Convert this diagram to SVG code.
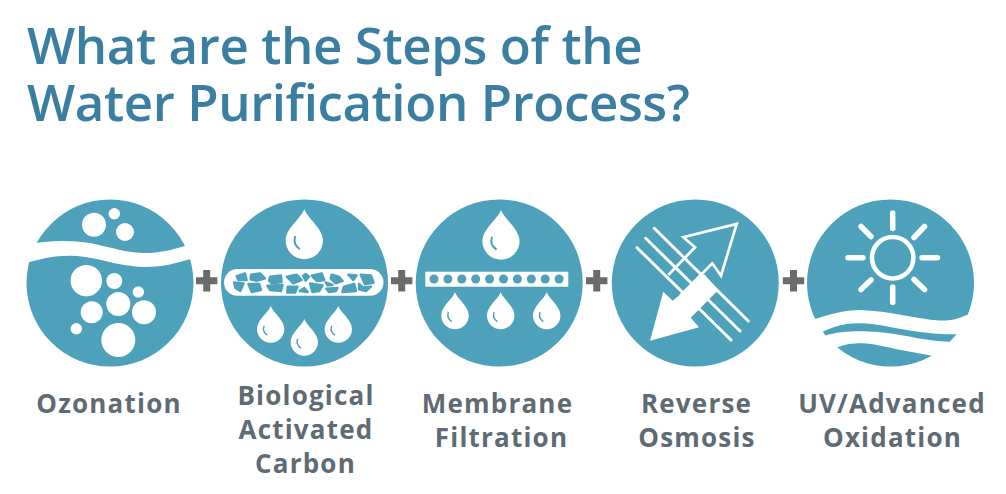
<svg xmlns="http://www.w3.org/2000/svg" xmlns:xlink="http://www.w3.org/1999/xlink" width="1006" height="494" viewBox="0 0 1006 494">
<style>
.title{font:600 51px "Open Sans","Liberation Sans",sans-serif;fill:#3a7ea1;letter-spacing:-.4px}
.label{font:700 26px "Open Sans","Liberation Sans",sans-serif;fill:#5f6b73;text-anchor:middle;letter-spacing:1.2px}
.disc{fill:#4da1bb}
.w{fill:#fff}
.t{fill:#4da1bb}
.ws{stroke:#fff;fill:none;stroke-linecap:round}
.plus{fill:none;stroke:#6b6b6b;stroke-width:7}
</style>
<defs>
<g id="drop"><path class="w" d="M0 0C8 20 37 38 37.5 63A37.5 37.5 0 0 1-37.5 63C-37 38-8 20 0 0Z"/><path d="M-18 54Q-24 70-9 80" fill="none" stroke="#4da1bb" stroke-width="4"/></g>
<clipPath id="c5"><circle cx="890.5" cy="283" r="83.5"/></clipPath>
</defs>
<rect width="1006" height="494" fill="#fff"/>
<g id="title"><text class="title" x="27" y="64">What are the Steps of the</text><text class="title" x="27" y="121">Water Purification Process?</text></g>
<g id="connectors">
<path class="plus" d="M196 280.7H217.4M206.7 270V291.4"/>
<path class="plus" d="M391 280.7H412.4M401.7 270V291.4"/>
<path class="plus" d="M586 280.7H607.4M596.7 270V291.4"/>
<path class="plus" d="M782.8 280.7H804.2M793.5 270V291.4"/>
</g>
<g id="ozonation">
<circle class="disc" cx="110" cy="283" r="83.5"/>
<path class="w" d="M20 246C45 240 70 240 90 243C110 247 130 254 150 253C165 252 175 249 195 243L195 258C175 263 165 267 145 267C125 267 105 260 85 257C65 254 45 257 20 265Z"/>
<circle class="w" cx="94" cy="224.7" r="12"/><circle class="w" cx="114.3" cy="213.7" r="5.7"/><circle class="w" cx="125" cy="232" r="9"/>
<circle class="w" cx="86.3" cy="280.7" r="15.7"/><circle class="w" cx="114.3" cy="281" r="8"/><circle class="w" cx="138.3" cy="292" r="5.7"/>
<circle class="w" cx="118.3" cy="304" r="12"/><circle class="w" cx="91.7" cy="312.3" r="11"/><circle class="w" cx="144" cy="312.3" r="12"/>
<circle class="w" cx="76.3" cy="328.7" r="5.7"/><circle class="w" cx="118.3" cy="340" r="17"/>
<text class="label" x="109" y="413">Ozonation</text>
</g>
<g id="biological-activated-carbon">
<circle class="disc" cx="304.5" cy="283" r="83.5"/>
<use xlink:href="#drop" href="#drop" transform="translate(304.3 209.3) scale(.497)"/>
<use xlink:href="#drop" href="#drop" transform="translate(270.7 306) scale(.365)"/>
<use xlink:href="#drop" href="#drop" transform="translate(304.3 319) scale(.365)"/>
<use xlink:href="#drop" href="#drop" transform="translate(338.3 306) scale(.365)"/>
<rect class="w" x="224" y="269" width="159.5" height="26.7" rx="13.3"/>
<g class="t" stroke="#4da1bb" stroke-width="7" stroke-linejoin="round" transform="translate(215 260) scale(.3333)">
<polygon points="65,48 90,40 95,60 70,60"/><polygon points="108,44 135,40 150,55 125,63 107,58"/><polygon points="165,50 198,46 200,66 170,70 162,62"/><polygon points="215,50 245,44 260,60 235,70"/><polygon points="264,48 272,42 282,50 272,62"/><polygon points="290,47 320,40 328,60 305,63"/><polygon points="350,44 372,50 383,63 362,70 347,55"/><polygon points="400,44 425,46 415,60"/><polygon points="437,44 468,46 476,68 450,73"/>
<polygon points="57,67 86,70 76,93 62,85"/><polygon points="100,72 133,72 138,90 110,96"/><polygon points="157,77 203,75 198,93 165,90"/><polygon points="218,80 248,80 240,98 217,98"/><polygon points="268,84 278,96 254,93"/><polygon points="285,70 323,76 313,93 292,96"/><polygon points="332,67 353,75 337,76"/><polygon points="334,86 368,84 363,93 342,96"/><polygon points="387,80 418,72 423,93 382,96"/><polygon points="432,72 445,82 468,80 453,93 432,88"/>
</g>
<text class="label" x="306" y="404.5">Biological</text><text class="label" x="306" y="438.5">Activated</text><text class="label" x="305.5" y="472.5">Carbon</text>
</g>
<g id="membrane-filtration">
<circle class="disc" cx="499.2" cy="283" r="83.5"/>
<use xlink:href="#drop" href="#drop" transform="translate(501 210) scale(.495)"/>
<use xlink:href="#drop" href="#drop" transform="translate(455 292.3) scale(.367)"/>
<use xlink:href="#drop" href="#drop" transform="translate(500.7 292.3) scale(.367)"/>
<use xlink:href="#drop" href="#drop" transform="translate(546.7 292.3) scale(.367)"/>
<rect class="w" x="425.3" y="271.7" width="143" height="15"/>
<g class="t"><circle cx="434" cy="279" r="4.5"/><circle cx="447.9" cy="279" r="4.5"/><circle cx="461.8" cy="279" r="4.5"/><circle cx="475.7" cy="279" r="4.5"/><circle cx="489.6" cy="279" r="4.5"/><circle cx="503.5" cy="279" r="4.5"/><circle cx="517.4" cy="279" r="4.5"/><circle cx="531.3" cy="279" r="4.5"/><circle cx="545.2" cy="279" r="4.5"/><circle cx="559.1" cy="279" r="4.5"/></g>
<text class="label" x="497.5" y="413">Membrane</text><text class="label" x="501.5" y="447">Filtration</text>
</g>
<g id="reverse-osmosis">
<circle class="disc" cx="695.3" cy="283" r="83.5"/>
<path class="ws" stroke-width="3" d="M654.3 228.3L748.3 321M645.7 238.3L740 331M637 247.7L731 340"/>
<path fill="none" stroke="#fff" stroke-width="2.7" stroke-linejoin="miter" d="M668.3 275L695 247.3L683.3 237.3L736.7 224L721 275.7L712.3 263.3L680 296"/>
<polygon class="w" points="650,340.7 663.3,291.7 672.7,300.7 704.3,274.3 718.3,290 690.7,317.7 699,327.3"/>
<text class="label" x="696.5" y="413">Reverse</text><text class="label" x="697" y="447">Osmosis</text>
</g>
<g id="uv-advanced-oxidation">
<g clip-path="url(#c5)">
<path class="t" d="M800 190H980V315H966.7C955 320 948 321 940 320.5C915 319 890 311 860 310C845 310 830 314 815 319H800Z"/>
<path class="t" d="M822.7 331.7C833 327 843 323.5 858 323.3C878 323 895 329 920 332C935 334 945 334.5 956.7 334.3L951.7 341.7C935 342 918 338 895 334C875 331 845 329 825 335.7Z"/>
<path class="t" d="M836.7 347.7C845 344 852 343.3 862 343.3C875 343.5 885 347 897 349.3L933.3 356L940 400H830Z"/>
</g>
<circle class="ws" cx="892.7" cy="257.7" r="20.7" stroke-width="4.5"/>
<path class="ws" stroke-width="5.5" d="M892.7 213V228.5M892.7 287V302.5M848 257.7H863M922 257.7H937.5M861 226.5L871 236.5M924.5 226.5L914 237.5M861 289.5L871 280M924.5 289.5L914 279.5"/>
<text class="label" x="892" y="413">UV/Advanced</text><text class="label" x="892.5" y="447">Oxidation</text>
</g>
</svg>
